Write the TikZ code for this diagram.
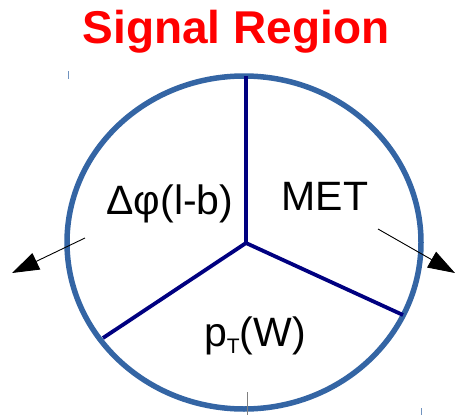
\documentclass[tikz,border=0pt]{standalone}
\usepackage{fontspec}
\setmainfont{Liberation Sans}
\usetikzlibrary{arrows.meta}
\definecolor{ringblue}{HTML}{3465A4}
\definecolor{spokenavy}{HTML}{000080}
\tikzset{
  ring/.style={draw=ringblue, line width=5.5pt},
  spoke/.style={draw=spokenavy, line width=3.8pt},
  vecarrow/.style={draw=black, line width=0.9pt, -{Triangle[length=27pt,width=18pt]}},
  lbl/.style={anchor=base, inner sep=0pt, font=\fontsize{41}{43}\selectfont},
  tick/.style={draw=#1, line width=1pt}
}
\begin{document}
\begin{tikzpicture}[x=1pt,y=-1pt]
\useasboundingbox (0,0) rectangle (455,415);
\node[anchor=base, inner sep=0pt, text=red, font=\fontsize{46}{48}\selectfont\bfseries] (title) at (236,43) {Signal Region};
\coordinate (c) at (246,243);
\coordinate (top) at (246,76);
\coordinate (ll) at (103,338);
\coordinate (lr) at (403,315);
\draw[ring] (244,242.5) ellipse [x radius=177, y radius=166.5];
\draw[spoke] (c) -- (top);
\draw[spoke] (c) -- (ll);
\draw[spoke] (c) -- (lr);
\node[lbl] (dphi) at (170,214) {Δφ(l-b)};
\node[lbl] (met) at (325,210) {MET};
\node[lbl] (pt) at (255,346) {p\raisebox{-0.35ex}{\fontsize{21}{23}\selectfont T}(W)};
\coordinate (la) at (85,238);
\coordinate (lb) at (12,273);
\coordinate (ra) at (378,229);
\coordinate (rb) at (455,273);
\draw[vecarrow] (la) -- (lb);
\draw[vecarrow] (ra) -- (rb);
\coordinate (t1a) at (68,71);
\coordinate (t1b) at (68,79);
\coordinate (t2a) at (247,392);
\coordinate (t2b) at (247,415);
\coordinate (t3a) at (421,408);
\coordinate (t3b) at (421,415);
\draw[tick=ringblue!70] (t1a) -- (t1b);
\draw[tick=gray] (t2a) -- (t2b);
\draw[tick=ringblue!70] (t3a) -- (t3b);
\end{tikzpicture}
\end{document}
